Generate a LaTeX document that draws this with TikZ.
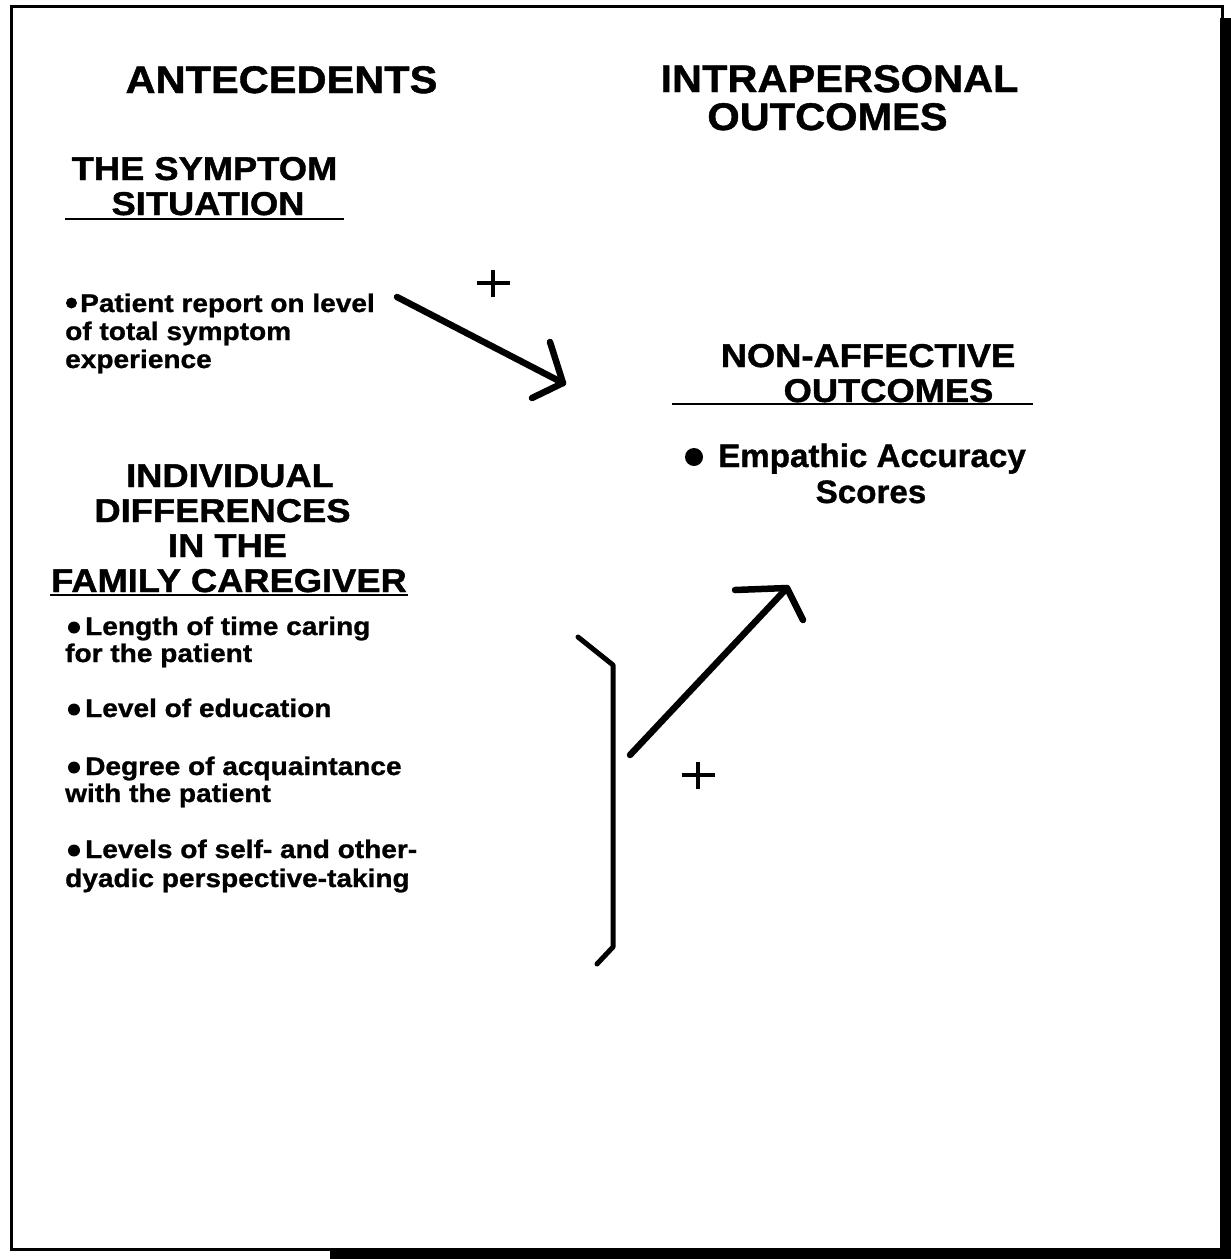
\documentclass[tikz,border=0pt]{standalone}
\usepackage{fontspec}
\setmainfont{Liberation Sans}
\newfontfamily\Hfont[FakeStretch=1.08,FakeBold=1.2]{Liberation Sans}
\newfontfamily\Sfont[FakeStretch=1.1,FakeBold=1.2]{Liberation Sans}
\newfontfamily\Bfont[FakeStretch=1.1,FakeBold=1.0]{Liberation Sans}
\newfontfamily\Efont[FakeStretch=1.02,FakeBold=1.0]{Liberation Sans}
\begin{document}
\begin{tikzpicture}[x=1pt,y=-1pt,
  mainhead/.style={inner sep=0pt, anchor=base, font=\Hfont\bfseries\fontsize{38.5}{36}\selectfont},
  subhead/.style={inner sep=0pt, anchor=base, font=\Sfont\bfseries\fontsize{33}{35}\selectfont},
  bodytext/.style={inner sep=0pt, anchor=base west, font=\Bfont\bfseries\fontsize{25.5}{27.5}\selectfont},
  emptext/.style={inner sep=0pt, font=\Efont\bfseries\fontsize{32.5}{36}\selectfont},
  dot/.style={circle, fill=black, inner sep=0pt, minimum size=#1},
  rulel/.style={line width=2pt},
  arrowline/.style={line width=6.5pt, line cap=round, line join=round},
  bracketline/.style={line width=5pt, line cap=round, line join=round},
  plusline/.style={line width=3.5pt},
  frameline/.style={line width=3pt}
]
\useasboundingbox (0,0) rectangle (1231,1259);
\fill[white] (0,0) rectangle (1231,1259);
% frame with shadow
\draw[frameline] (11,6.5) -- (1222,6.5) -- (1222,1249) -- (11,1249) -- cycle;
\fill[black] (1220,18) rectangle (1231,1259);
\fill[black] (330,1249) rectangle (1231,1259);

% main headings
\node[mainhead] (ante) at (281.5,93) {ANTECEDENTS};
\node[mainhead] (intra1) at (839.5,92) {INTRAPERSONAL};
\node[mainhead] (intra2) at (827.5,130) {OUTCOMES};

% symptom situation
\node[subhead] (sym1) at (204.5,180) {THE SYMPTOM};
\node[subhead] (sym2) at (208,215) {SITUATION};
\coordinate (u1a) at (65,218.5);
\coordinate (u1b) at (344,218.5);
\draw[rulel] (u1a) -- (u1b);

\node[dot=11pt] (pb) at (71.5,303) {};
\node[bodytext] (p1) at (80,312) {Patient report on level};
\node[bodytext] (p2) at (65,340) {of total symptom};
\node[bodytext] (p3) at (65,368) {experience};

% plus 1
\coordinate (pl1) at (493,283);
\draw[plusline] ([xshift=-16.5pt]pl1) -- ([xshift=16.5pt]pl1);
\draw[plusline] ([yshift=-13.5pt]pl1) -- ([yshift=13.5pt]pl1);

% arrow 1
\coordinate (a1s) at (397,297);
\coordinate (a1t) at (563,383);
\coordinate (a1l) at (550,342);
\coordinate (a1r) at (532,398);
\draw[arrowline] (a1s) -- (a1t);
\draw[arrowline] (a1l) -- (a1t) -- (a1r);

% non-affective outcomes
\node[subhead] (na1) at (868,367) {NON-AFFECTIVE};
\node[subhead] (na2) at (888.5,402) {OUTCOMES};
\coordinate (u2a) at (672,403.5);
\coordinate (u2b) at (1033,403.5);
\draw[rulel] (u2a) -- (u2b);

\node[dot=18pt] (eb) at (694,457) {};
\node[emptext, anchor=base west] (e1) at (718,467) {Empathic Accuracy};
\node[emptext, anchor=base] (e2) at (871,503) {Scores};

% individual differences
\node[subhead] (id1) at (230,487) {INDIVIDUAL};
\node[subhead] (id2) at (222.5,522) {DIFFERENCES};
\node[subhead] (id3) at (227.5,557) {IN THE};
\node[subhead] (id4) at (229,592) {FAMILY CAREGIVER};
\coordinate (u3a) at (50,595);
\coordinate (u3b) at (408,595);
\draw[rulel] (u3a) -- (u3b);

\node[dot=12pt] (lb1) at (74,627.5) {};
\node[bodytext] (l1a) at (85,635) {Length of time caring};
\node[bodytext] (l1b) at (65,662) {for the patient};

\node[dot=12pt] (lb2) at (74,709.5) {};
\node[bodytext] (l2a) at (85,717) {Level of education};

\node[dot=12pt] (lb3) at (74,767.5) {};
\node[bodytext] (l3a) at (85,775) {Degree of acquaintance};
\node[bodytext] (l3b) at (65,802) {with the patient};

\node[dot=12pt] (lb4) at (74,850.5) {};
\node[bodytext] (l4a) at (85,858) {Levels of self- and other-};
\node[bodytext] (l4b) at (65,887) {dyadic perspective-taking};

% bracket
\coordinate (b1) at (578,637);
\coordinate (b2) at (613,665);
\coordinate (b3) at (613,947);
\coordinate (b4) at (597,964);
\draw[bracketline] (b1) -- (b2) -- (b3) -- (b4);

% arrow 2
\coordinate (a2s) at (630,755);
\coordinate (a2t) at (787,588);
\coordinate (a2l) at (735,590);
\coordinate (a2r) at (803,620);
\draw[arrowline] (a2s) -- (a2t);
\draw[arrowline] (a2l) -- (a2t) -- (a2r);

% plus 2
\coordinate (pl2) at (698,775);
\draw[plusline] ([xshift=-16.5pt]pl2) -- ([xshift=16.5pt]pl2);
\draw[plusline] ([yshift=-13.5pt]pl2) -- ([yshift=13.5pt]pl2);
\end{tikzpicture}
\end{document}
